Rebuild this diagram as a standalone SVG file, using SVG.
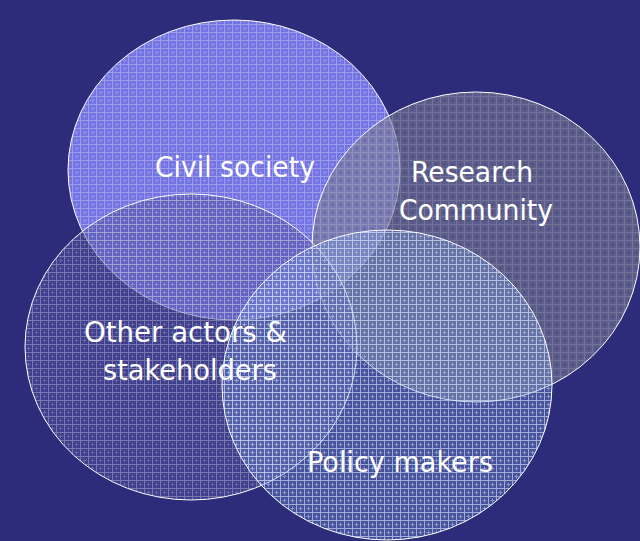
<svg xmlns="http://www.w3.org/2000/svg" width="640" height="541" viewBox="0 0 640 541">
  <defs>
    <!-- fine woven texture laid over each disc -->
    <pattern id="weave" width="8" height="8" patternUnits="userSpaceOnUse">
      <path d="M0 0.5H8M0.5 0V8" stroke="#ffffff" stroke-width="1" opacity="0.3"/>
      <path d="M4.5 2.5v4M2.5 4.5h4" stroke="#ffffff" stroke-width="1" opacity="0.2"/>
    </pattern>
    <pattern id="weaveLight" width="8" height="8" patternUnits="userSpaceOnUse">
      <path d="M0 0.5H8M0.5 0V8" stroke="#d8ecff" stroke-width="1" opacity="0.6"/>
      <path d="M4.5 2.5v4M2.5 4.5h4" stroke="#d8ecff" stroke-width="1" opacity="0.45"/>
    </pattern>
    <pattern id="weaveDark" width="8" height="8" patternUnits="userSpaceOnUse">
      <path d="M0 0.5H8M0.5 0V8" stroke="#9a9ab8" stroke-width="1" opacity="0.35"/>
      <path d="M4.5 2.5v4M2.5 4.5h4" stroke="#2a2a70" stroke-width="1" opacity="0.3"/>
    </pattern>
  </defs>
  <style>
    .ring { stroke: #ffffff; stroke-width: 1; }
    .lbl { fill: #ffffff; font-family: Tahoma, "DejaVu Sans", Verdana, sans-serif; font-size: 29px; text-anchor: middle; }
  </style>

  <rect width="640" height="541" fill="#2c2c7a"/>

  <g id="civil-society">
    <ellipse cx="234" cy="170" rx="166" ry="150" fill="#8686ff" fill-opacity="0.8"/>
    <ellipse cx="234" cy="170" rx="166" ry="150" fill="url(#weave)" class="ring"/>
  </g>

  <g id="research-community">
    <ellipse cx="476" cy="247" rx="164" ry="155" fill="#7e7e96" fill-opacity="0.6"/>
    <ellipse cx="476" cy="247" rx="164" ry="155" fill="url(#weaveDark)" class="ring"/>
  </g>

  <g id="other-actors">
    <ellipse cx="191" cy="347" rx="166" ry="153" fill="#5252a0" fill-opacity="0.5"/>
    <ellipse cx="191" cy="347" rx="166" ry="153" fill="url(#weave)" class="ring"/>
  </g>

  <g id="policy-makers">
    <ellipse cx="387" cy="385" rx="165" ry="155" fill="#7c94d8" fill-opacity="0.35"/>
    <ellipse cx="387" cy="385" rx="165" ry="155" fill="url(#weaveLight)" class="ring"/>
  </g>

  <!-- labels sit above every disc -->
  <g id="labels">
    <text class="lbl" x="235" y="177" textLength="160" lengthAdjust="spacingAndGlyphs">Civil society</text>
    <text class="lbl" x="472" y="182" textLength="122" lengthAdjust="spacingAndGlyphs">Research</text>
    <text class="lbl" x="476" y="220" textLength="154" lengthAdjust="spacingAndGlyphs">Community</text>
    <text class="lbl" x="185.5" y="342" textLength="203" lengthAdjust="spacingAndGlyphs">Other actors &amp;</text>
    <text class="lbl" x="190" y="380" textLength="174" lengthAdjust="spacingAndGlyphs">stakeholders</text>
    <text class="lbl" x="400" y="472" textLength="186" lengthAdjust="spacingAndGlyphs">Policy makers</text>
  </g>

  <g id="connectors"/>
</svg>
